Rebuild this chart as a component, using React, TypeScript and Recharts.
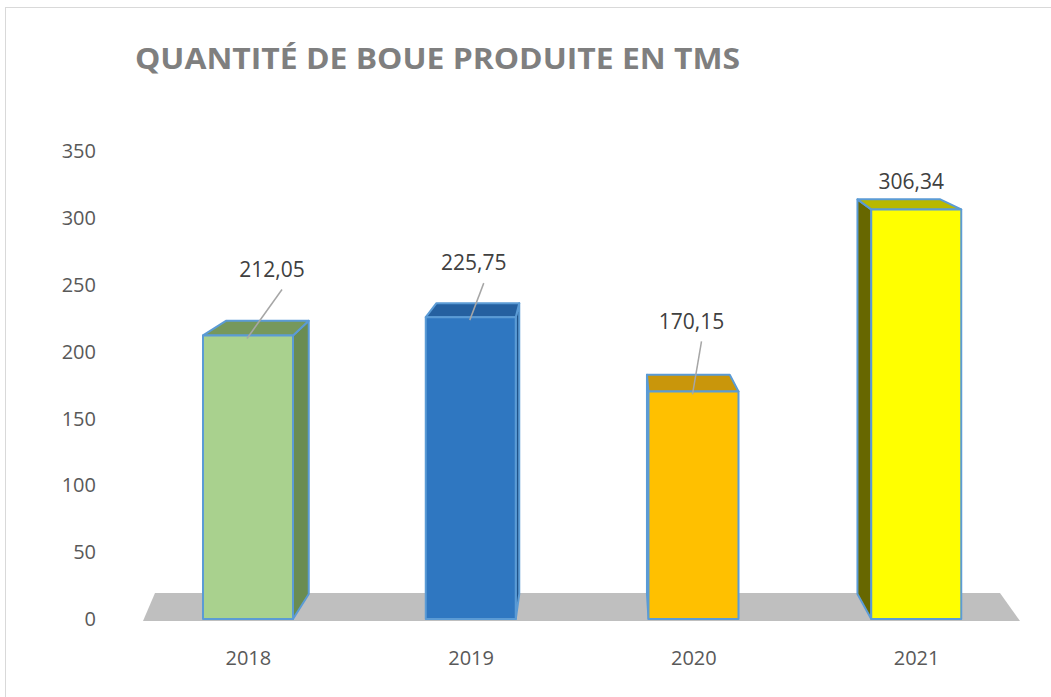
import { BarChart, Bar, XAxis, YAxis, ReferenceArea, LabelList } from "recharts";

const years = ["2018", "2019", "2020", "2021"];
const tonnage = [212.05, 225.75, 170.15, 306.34];
const yTicks = [0, 50, 100, 150, 200, 250, 300, 350];

const data = years.map((year, i) => ({ year, value: tonnage[i] }));

// front / top / side shades for each bar
const FRONT = ["#a9d18e", "#2f77c1", "#ffc000", "#ffff00"];
const TOP = ["#76985c", "#2560a0", "#c9960b", "#b8b800"];
const SIDE = ["#6a8c52", "#1f5289", "#b08300", "#676700"];
const EDGE = "#5b9bd5";

// label placement relative to the front top centre of each bar
const LABEL_POS = [
    { dx: 24, dy: -66, leader: true },
    { dx: 3, dy: -54, leader: true },
    { dx: -2, dy: -70, leader: true },
    { dx: -5, dy: -28, leader: false },
];

const FONT = "'Open Sans', 'Liberation Sans', sans-serif";

function Bar3D(props: any) {
    const { x, y, width: w, height: h, index } = props;
    const cx = x + w / 2;
    const bottom = y + h;
    const shift = (600 - cx) * 0.055;
    const bw = w * 0.92;
    const bl = cx + shift - bw / 2;
    const br = cx + shift + bw / 2;
    const depthTop = 25 - (bottom - y) * 0.0366;
    const bt = y - depthTop;
    const bb = bottom - 25;
    const stroke = { stroke: EDGE, strokeWidth: 2, strokeLinejoin: "round" as const };
    const pts = (arr: number[][]) => arr.map((p) => p.join(",")).join(" ");
    return (
        <g>
            {br > x + w && (
                <polygon points={pts([[x + w, y], [br, bt], [br, bb], [x + w, bottom]])} fill={SIDE[index]} {...stroke} />
            )}
            {bl < x && (
                <polygon points={pts([[x, y], [bl, bt], [bl, bb], [x, bottom]])} fill={SIDE[index]} {...stroke} />
            )}
            <polygon points={pts([[x, y], [bl, bt], [br, bt], [x + w, y]])} fill={TOP[index]} {...stroke} />
            <rect x={x} y={y} width={w} height={h} fill={FRONT[index]} {...stroke} />
        </g>
    );
}

function Floor(props: any) {
    const { x, y, width: w, height: h } = props;
    const pts = [
        [x + 6, y + h + 2],
        [x + w - 8, y + h + 2],
        [x + w - 28, y],
        [x + 18, y],
    ];
    return <polygon points={pts.map((p) => p.join(",")).join(" ")} fill="#bfbfbf" />;
}

function ValueLabel(props: any) {
    const { x, y, width: w, value, index } = props;
    const pos = LABEL_POS[index] || { dx: 0, dy: -30, leader: false };
    const cx = x + w / 2;
    const lx = cx + pos.dx;
    const ly = y + pos.dy;
    return (
        <g>
            {pos.leader && (
                <line x1={lx + 10} y1={ly + 20} x2={cx - 1} y2={y + 3} stroke="#a6a6a6" strokeWidth={1.5} />
            )}
            <text x={lx} y={ly} dy="0.35em" textAnchor="middle" fill="#404040" fontSize={21} fontFamily={FONT}>
                {Number(value).toFixed(2).replace(".", ",")}
            </text>
        </g>
    );
}

export default function App() {
    return (
        <div style={{ position: "absolute", left: 0, top: 0, width: 1051, height: 697, overflow: "hidden", background: "#fff" }}>
            <div
                style={{
                    position: "absolute",
                    left: 5,
                    top: 7,
                    width: 1060,
                    height: 720,
                    borderLeft: "1px solid #d9d9d9",
                    borderTop: "1px solid #d9d9d9",
                }}
            />
            <svg width={1051} height={100} style={{ position: "absolute", left: 0, top: 0 }}>
                <text
                    x={135}
                    y={69}
                    fill="#7f7f7f"
                    fontSize={28}
                    fontWeight={700}
                    fontFamily={FONT}
                    textLength={605}
                    lengthAdjust="spacingAndGlyphs"
                >
                    QUANTITÉ DE BOUE PRODUITE EN TMS
                </text>
            </svg>
            <div style={{ position: "absolute", left: 0, top: 0 }}>
                <BarChart width={1051} height={697} data={data} margin={{ top: 151, right: 23, bottom: 38, left: 77 }}>
                    <XAxis
                        dataKey="year"
                        axisLine={false}
                        tickLine={false}
                        height={40}
                        tickMargin={26}
                        tick={{ fill: "#595959", fontSize: 20, fontFamily: FONT }}
                    />
                    <YAxis
                        domain={[0, 350]}
                        ticks={yTicks}
                        axisLine={false}
                        tickLine={false}
                        width={60}
                        tickMargin={35}
                        tick={{ fill: "#595959", fontSize: 20, fontFamily: FONT }}
                    />
                    <ReferenceArea y1={0} y2={19.5} ifOverflow="visible" shape={<Floor />} />
                    <Bar dataKey="value" barSize={90} shape={<Bar3D />} isAnimationActive={false}>
                        <LabelList dataKey="value" content={<ValueLabel />} />
                    </Bar>
                </BarChart>
            </div>
        </div>
    );
}
